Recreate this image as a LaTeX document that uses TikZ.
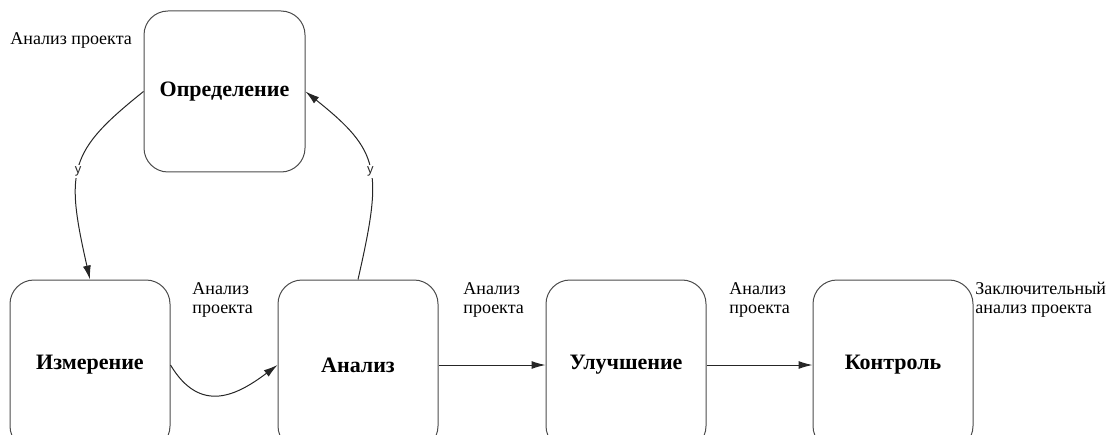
\documentclass[tikz,border=0pt]{standalone}
\usepackage{fontspec}
\setmainfont{Liberation Serif}
\newfontfamily\ysans{Liberation Sans}
\usetikzlibrary{arrows.meta}
\tikzset{
    stage/.style={draw=black!70,line width=0.5pt,rounded corners=12pt,minimum width=80pt,minimum height=85pt,font=\fontsize{11}{13}\selectfont\bfseries},
    note/.style={anchor=west,inner sep=0pt,align=left,font=\fontsize{9}{9.5}\selectfont},
    flow/.style={-{Latex[length=7pt,width=4pt]},line width=0.5pt,black!85},
    ymark/.style={fill=white,inner sep=1pt,font=\ysans\fontsize{6.5}{6.5}\selectfont}
}
\begin{document}
\begin{tikzpicture}[x=0.5pt,y=0.5pt]
            \useasboundingbox (0,0) rectangle (1106,434);
            \node[stage,minimum width=80.5pt,minimum height=80.5pt] (opr) at (224.5,342.5) {Определение};
            \node[stage] (izm) at (90,69) {Измерение};
            \node[stage] (anl) at (358,69) {Анализ};
            \node[stage] (ulu) at (626,69) {Улучшение};
            \node[stage] (kon) at (893,69) {Контроль};
            \node[note] (n0) at (10,394) {Анализ проекта};
            \node[note] (n1) at (192,134) {Анализ\\проекта};
            \node[note] (n2) at (463,134) {Анализ\\проекта};
            \node[note] (n3) at (729,134) {Анализ\\проекта};
            \node[note] (n4) at (975,134) {Заключительный\\анализ проекта};
            \draw[flow] (opr.west) .. controls +(-75,-60) and +(-25,110) .. (izm.north) node[ymark,pos=0.53] {y};
            \draw[flow] (anl.north) .. controls +(25,110) and +(75,-60) .. (opr.east) node[ymark,pos=0.47] {y};
            \draw[flow] (izm.east) .. controls +(30,-50) and +(-40,-30) .. (anl.west);
            \draw[flow] (anl.east) -- (ulu.west);
            \draw[flow] (ulu.east) -- (kon.west);
        \end{tikzpicture}
\end{document}
